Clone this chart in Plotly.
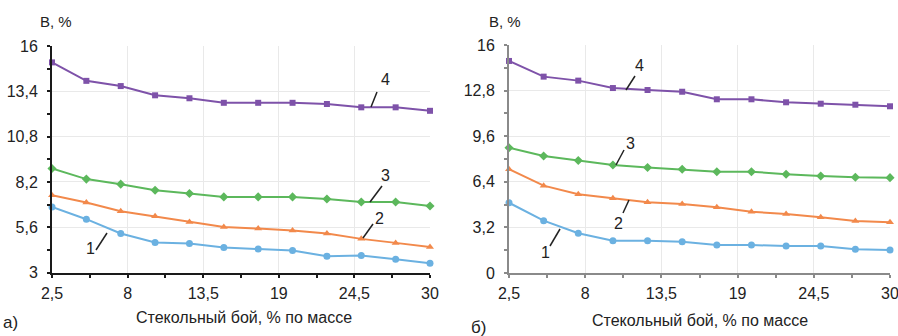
import plotly.graph_objects as go

# ---- data ----
x_vals = [2.5, 5, 7.5, 10, 12.5, 15, 17.5, 20, 22.5, 25, 27.5, 30]

a_s1 = [6.76, 6.06, 5.24, 4.72, 4.66, 4.43, 4.35, 4.26, 3.93, 3.97, 3.76, 3.53]
a_s2 = [7.44, 7.02, 6.52, 6.23, 5.90, 5.61, 5.52, 5.41, 5.24, 4.93, 4.70, 4.47]
a_s3 = [8.97, 8.36, 8.07, 7.72, 7.53, 7.34, 7.34, 7.34, 7.22, 7.05, 7.05, 6.82]
a_s4 = [15.06, 14.00, 13.70, 13.17, 13.00, 12.74, 12.74, 12.74, 12.67, 12.48, 12.48, 12.28]

b_s1 = [4.93, 3.67, 2.79, 2.27, 2.27, 2.20, 1.96, 1.96, 1.89, 1.89, 1.66, 1.61]
b_s2 = [7.28, 6.13, 5.52, 5.24, 4.96, 4.84, 4.61, 4.30, 4.14, 3.91, 3.65, 3.56]
b_s3 = [8.79, 8.21, 7.89, 7.58, 7.40, 7.28, 7.11, 7.11, 6.93, 6.81, 6.72, 6.69]
b_s4 = [14.88, 13.78, 13.50, 12.98, 12.84, 12.72, 12.19, 12.19, 11.98, 11.88, 11.81, 11.70]

x_ticks = [2.5, 8, 13.5, 19, 24.5, 30]
x_ticktext = ["2,5", "8", "13,5", "19", "24,5", "30"]
a_yticks = [3, 5.6, 8.2, 10.8, 13.4, 16]
a_yticktext = ["3", "5,6", "8,2", "10,8", "13,4", "16"]
b_yticks = [0, 3.2, 6.4, 9.6, 12.8, 16]
b_yticktext = ["0", "3,2", "6,4", "9,6", "12,8", "16"]

series_names = ["1", "2", "3", "4"]
colors = ["#6bb1e1", "#f2894b", "#5cb85c", "#7e52a9"]
symbols = ["circle", "triangle-up", "diamond", "square"]

x_title = "Стекольный бой, % по массе"
y_title = "В, %"

FONT = "Liberation Sans, Arial, sans-serif"

fig = go.Figure()

for data, xa, ya in [([a_s1, a_s2, a_s3, a_s4], "x", "y"),
                     ([b_s1, b_s2, b_s3, b_s4], "x2", "y2")]:
    for i, ys in enumerate(data):
        fig.add_trace(go.Scatter(
            x=x_vals, y=ys, xaxis=xa, yaxis=ya, name=series_names[i],
            mode="lines+markers",
            line=dict(color=colors[i], width=2),
            marker=dict(symbol=symbols[i], size=7 if symbols[i] != "square" else 6,
                        color=colors[i]),
            cliponaxis=False,
            showlegend=False, hoverinfo="skip"))

W, H = 898, 336
def px(v): return v / W
def py(v): return 1 - v / H

tickfont = dict(family=FONT, size=16, color="#222")
grid = "#e9e9e9"

def xax(dom, anchor, col):
    return dict(domain=dom, anchor=anchor, range=[2.5, 30], automargin=False,
                tickvals=x_ticks, ticktext=x_ticktext, tickfont=tickfont,
                ticklabeloverflow="allow",
                showgrid=True, gridcolor=grid, gridwidth=1,
                showline=True, linecolor=col, linewidth=2,
                ticks="outside", ticklen=3, tickcolor=col, tickwidth=1.5,
                ticklabelstandoff=2,
                minor=dict(tickvals=[5.25, 10.75, 16.25, 21.75, 27.25],
                           ticks="outside", ticklen=3, tickcolor=col, tickwidth=1.5,
                           showgrid=False),
                zeroline=False, fixedrange=True)

def yax(dom, anchor, rng, tv, tt, minor_vals, col):
    return dict(domain=dom, anchor=anchor, range=rng, automargin=False,
                tickvals=tv, ticktext=tt, tickfont=tickfont,
                ticklabeloverflow="allow",
                showgrid=True, gridcolor=grid, gridwidth=1,
                showline=True, linecolor=col, linewidth=2,
                ticks="outside", ticklen=3, tickcolor=col, tickwidth=1.5,
                ticklabelstandoff=6,
                minor=dict(tickvals=minor_vals, ticks="outside", ticklen=3,
                           tickcolor=col, tickwidth=1.5, showgrid=False),
                zeroline=False, fixedrange=True)

a_minor = [4.3, 6.9, 9.5, 12.1, 14.7]
b_minor = [1.6, 4.8, 8.0, 11.2, 14.4]

fig.update_layout(
    width=W, height=H, margin=dict(l=0, r=0, t=0, b=0),
    paper_bgcolor="white", plot_bgcolor="white",
    xaxis=xax([px(52), px(430)], "y", "#1a1a1a"),
    yaxis=yax([py(272.5), py(46)], "x", [3, 16], a_yticks, a_yticktext, a_minor, "#1a1a1a"),
    xaxis2=xax([px(509), px(890)], "y2", "#8a8a8a"),
    yaxis2=yax([py(273), py(45)], "x2", [0, 16], b_yticks, b_yticktext, b_minor, "#8a8a8a"),
)

ann = []
tf = dict(family=FONT, size=16, color="#222")
# axis titles
ann.append(dict(x=px(244), y=py(317), xref="paper", yref="paper", text=x_title,
                showarrow=False, font=tf, xanchor="center", yanchor="middle"))
ann.append(dict(x=px(700), y=py(320), xref="paper", yref="paper", text=x_title,
                showarrow=False, font=tf, xanchor="center", yanchor="middle"))
ann.append(dict(x=px(38), y=py(22), xref="paper", yref="paper", text=y_title,
                showarrow=False, font=dict(family=FONT, size=15, color="#222"),
                xanchor="left", yanchor="middle"))
ann.append(dict(x=px(487), y=py(22), xref="paper", yref="paper", text=y_title,
                showarrow=False, font=dict(family=FONT, size=15, color="#222"),
                xanchor="left", yanchor="middle"))
# panel letters
ann.append(dict(x=px(1), y=py(322), xref="paper", yref="paper", text="а)",
                showarrow=False, font=dict(family=FONT, size=17, color="#222"),
                xanchor="left", yanchor="middle"))
ann.append(dict(x=px(469), y=py(327), xref="paper", yref="paper", text="б)",
                showarrow=False, font=dict(family=FONT, size=17, color="#222"),
                xanchor="left", yanchor="middle"))

# series number labels with leader lines (pixel positions: text, line start, line end)
labels = [
    ("4", (385, 79), (377, 92), (371, 107)),
    ("3", (385, 175), (382, 186), (370, 202)),
    ("2", (379, 218), (373, 224), (363, 238)),
    ("1", (90, 248), (96, 250), (107, 233)),
    ("4", (639, 66), (635, 76), (626, 90)),
    ("3", (630, 143), (624, 150), (616, 165)),
    ("2", (618, 223), (623, 213), (629, 200)),
    ("1", (545, 252), (550, 246), (560, 229)),
]
shapes = []
for t, (tx, ty), (x0, y0), (x1, y1) in labels:
    ann.append(dict(x=px(tx), y=py(ty), xref="paper", yref="paper", text=t,
                    showarrow=False, font=dict(family=FONT, size=16, color="#222"),
                    xanchor="center", yanchor="middle"))
    shapes.append(dict(type="line", xref="paper", yref="paper",
                       x0=px(x0), y0=py(y0), x1=px(x1), y1=py(y1),
                       line=dict(color="#222", width=1.5)))

fig.update_layout(annotations=ann, shapes=shapes)

fig.write_html("out.html")
